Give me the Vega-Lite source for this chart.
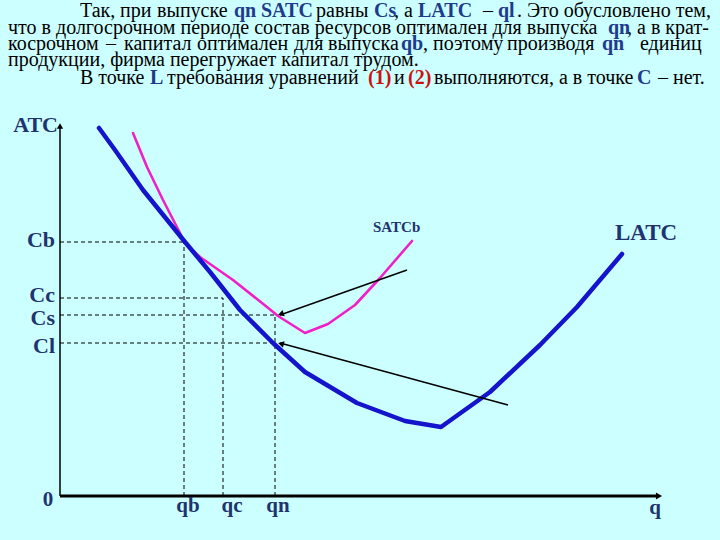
{
  "$schema": "https://vega.github.io/schema/vega-lite/v6.json",
  "width": 720,
  "height": 540,
  "autosize": {"type": "fit", "contains": "padding"},
  "padding": 0,
  "background": "#ccffff",
  "config": {"view": {"stroke": null}},
  "datasets": {
    "curves": [
      {"s": "LATC", "o": 1, "x": 39, "y": 368},
      {"s": "LATC", "o": 2, "x": 55, "y": 346},
      {"s": "LATC", "o": 3, "x": 83, "y": 306},
      {"s": "LATC", "o": 4, "x": 125, "y": 254},
      {"s": "LATC", "o": 5, "x": 150, "y": 224},
      {"s": "LATC", "o": 6, "x": 180, "y": 186},
      {"s": "LATC", "o": 7, "x": 213, "y": 153},
      {"s": "LATC", "o": 8, "x": 245, "y": 124},
      {"s": "LATC", "o": 9, "x": 297, "y": 93},
      {"s": "LATC", "o": 10, "x": 345, "y": 75},
      {"s": "LATC", "o": 11, "x": 381, "y": 69},
      {"s": "LATC", "o": 12, "x": 430, "y": 104},
      {"s": "LATC", "o": 13, "x": 480, "y": 151},
      {"s": "LATC", "o": 14, "x": 517, "y": 189},
      {"s": "LATC", "o": 15, "x": 562, "y": 242},
      {"s": "SATC", "o": 1, "x": 73, "y": 363},
      {"s": "SATC", "o": 2, "x": 80, "y": 346},
      {"s": "SATC", "o": 3, "x": 87, "y": 329},
      {"s": "SATC", "o": 4, "x": 103, "y": 296},
      {"s": "SATC", "o": 5, "x": 120, "y": 263},
      {"s": "SATC", "o": 6, "x": 124, "y": 254},
      {"s": "SATC", "o": 7, "x": 140, "y": 239},
      {"s": "SATC", "o": 8, "x": 173, "y": 216},
      {"s": "SATC", "o": 9, "x": 207, "y": 189},
      {"s": "SATC", "o": 10, "x": 218, "y": 180},
      {"s": "SATC", "o": 11, "x": 245, "y": 163},
      {"s": "SATC", "o": 12, "x": 268, "y": 172},
      {"s": "SATC", "o": 13, "x": 295, "y": 191},
      {"s": "SATC", "o": 14, "x": 320, "y": 218},
      {"s": "SATC", "o": 15, "x": 352, "y": 255}
    ],
    "dashes": [
      {"x": 0, "y": 254, "x2": 124, "y2": 254},
      {"x": 124, "y": 0, "x2": 124, "y2": 254},
      {"x": 0, "y": 198, "x2": 163, "y2": 198},
      {"x": 163, "y": 0, "x2": 163, "y2": 198},
      {"x": 0, "y": 181, "x2": 215, "y2": 181},
      {"x": 0, "y": 153, "x2": 215, "y2": 153},
      {"x": 215, "y": 0, "x2": 215, "y2": 181}
    ],
    "arrows": [
      {"a": "up", "x": 347, "y": 226, "x2": 220, "y2": 181},
      {"a": "lo", "x": 448, "y": 91, "x2": 220, "y2": 153}
    ],
    "heads": [
      {"a": "up", "x": 221.8, "y": 182.3},
      {"a": "lo", "x": 221.9, "y": 152},
      {"a": "ya", "x": 0, "y": 370},
      {"a": "xa", "x": 599, "y": 0}
    ],
    "ylabels": [
      {"t": "ATC", "x": -2, "y": 371},
      {"t": "Cb", "x": -5, "y": 256},
      {"t": "Cc", "x": -5, "y": 201},
      {"t": "Cs", "x": -5, "y": 178},
      {"t": "Cl", "x": -5, "y": 150}
    ],
    "xlabels": [
      {"t": "0", "x": -12, "y": -4},
      {"t": "qb", "x": 128, "y": -10},
      {"t": "qc", "x": 172, "y": -10},
      {"t": "qn", "x": 218, "y": -10},
      {"t": "q", "x": 595, "y": -12}
    ],
    "para": [
      {"k": "body", "t": "Так,", "x": 20, "y": 479},
      {"k": "body", "t": "при", "x": 60, "y": 479},
      {"k": "body", "t": "выпуске", "x": 97, "y": 479},
      {"k": "blue", "t": "qn", "x": 174, "y": 479},
      {"k": "blue", "t": "SATC", "x": 201, "y": 479},
      {"k": "body", "t": "равны", "x": 256, "y": 479},
      {"k": "blue", "t": "Cs", "x": 314, "y": 479},
      {"k": "body", "t": ", а", "x": 334, "y": 479},
      {"k": "blue", "t": "LATC", "x": 358, "y": 479},
      {"k": "body", "t": "–", "x": 423, "y": 479},
      {"k": "blue", "t": "ql", "x": 438, "y": 479},
      {"k": "body", "t": ". Это обусловлено тем,", "x": 457, "y": 479},
      {"k": "body", "t": "что в долгосрочном периоде состав ресурсов оптимален для выпуска", "x": -52, "y": 462},
      {"k": "blue", "t": "qn", "x": 548, "y": 462},
      {"k": "body", "t": ", а в крат-", "x": 567, "y": 462},
      {"k": "body", "t": "косрочном", "x": -52, "y": 446},
      {"k": "body", "t": "–", "x": 46, "y": 446},
      {"k": "body", "t": "капитал", "x": 64, "y": 446},
      {"k": "body", "t": "оптимален", "x": 137, "y": 446},
      {"k": "body", "t": "для", "x": 234, "y": 446},
      {"k": "body", "t": "выпуска", "x": 268, "y": 446},
      {"k": "blue", "t": "qb", "x": 341, "y": 446},
      {"k": "body", "t": ", поэтому", "x": 363, "y": 446},
      {"k": "body", "t": "производя", "x": 447, "y": 446},
      {"k": "blue", "t": "qn", "x": 542, "y": 446},
      {"k": "body", "t": "единиц", "x": 580, "y": 446},
      {"k": "body", "t": "продукции, фирма перегружает капитал трудом.", "x": -52, "y": 430},
      {"k": "body", "t": "В точке", "x": 20, "y": 412},
      {"k": "blue", "t": "L", "x": 90, "y": 412},
      {"k": "body", "t": "требования уравнений", "x": 107, "y": 412},
      {"k": "red", "t": "(1)", "x": 308, "y": 412},
      {"k": "body", "t": "и", "x": 334, "y": 412},
      {"k": "red", "t": "(2)", "x": 348, "y": 412},
      {"k": "body", "t": "выполняются, а в точке", "x": 374, "y": 412},
      {"k": "blue", "t": "C", "x": 577, "y": 412},
      {"k": "body", "t": "– нет.", "x": 598, "y": 412}
    ]
  },
  "encoding": {
    "x": {"field": "x", "type": "quantitative", "axis": null, "scale": {"domain": [-60, 660], "nice": false, "zero": false}},
    "y": {"field": "y", "type": "quantitative", "axis": null, "scale": {"domain": [-44, 496], "nice": false, "zero": false}}
  },
  "layer": [
    {
      "data": {"name": "dashes"},
      "mark": {"type": "rule", "color": "#000000", "strokeWidth": 1, "strokeDash": [4, 3]},
      "encoding": {"x2": {"field": "x2"}, "y2": {"field": "y2"}}
    },
    {
      "data": {"values": [{"x": 0, "y": 0, "x2": 0, "y2": 370}]},
      "mark": {"type": "rule", "color": "#000000", "strokeWidth": 1.5},
      "encoding": {"x2": {"field": "x2"}, "y2": {"field": "y2"}}
    },
    {
      "data": {"values": [{"x": 0, "y": 0, "x2": 598, "y2": 0}]},
      "mark": {"type": "rule", "color": "#000000", "strokeWidth": 3},
      "encoding": {"x2": {"field": "x2"}, "y2": {"field": "y2"}}
    },
    {
      "data": {"name": "heads"},
      "transform": [{"filter": "datum.a === 'ya'"}],
      "mark": {"type": "point", "shape": "triangle-up", "filled": true, "color": "#000000", "size": 40, "opacity": 1},
      "encoding": {}
    },
    {
      "data": {"name": "heads"},
      "transform": [{"filter": "datum.a === 'xa'"}],
      "mark": {"type": "point", "shape": "triangle-right", "filled": true, "color": "#000000", "size": 50, "opacity": 1},
      "encoding": {}
    },
    {
      "data": {"name": "curves"},
      "transform": [{"filter": "datum.s === 'SATC'"}],
      "mark": {"type": "line", "color": "#f020c8", "strokeWidth": 2.6, "strokeCap": "round", "strokeJoin": "round"},
      "encoding": {"order": {"field": "o"}}
    },
    {
      "data": {"name": "curves"},
      "transform": [{"filter": "datum.s === 'LATC'"}],
      "mark": {"type": "line", "color": "#1414cc", "strokeWidth": 4.5, "strokeCap": "round", "strokeJoin": "round"},
      "encoding": {"order": {"field": "o"}}
    },
    {
      "data": {"name": "arrows"},
      "mark": {"type": "rule", "color": "#000000", "strokeWidth": 1.5},
      "encoding": {"x2": {"field": "x2"}, "y2": {"field": "y2"}}
    },
    {
      "data": {"name": "heads"},
      "transform": [{"filter": "datum.a === 'up'"}],
      "mark": {"type": "point", "shape": "triangle", "angle": 250.8, "filled": true, "color": "#000000", "size": 45, "opacity": 1},
      "encoding": {}
    },
    {
      "data": {"name": "heads"},
      "transform": [{"filter": "datum.a === 'lo'"}],
      "mark": {"type": "point", "shape": "triangle", "angle": 285.1, "filled": true, "color": "#000000", "size": 45, "opacity": 1},
      "encoding": {}
    },
    {
      "data": {"name": "ylabels"},
      "mark": {"type": "text", "align": "right", "baseline": "middle", "font": "Liberation Serif", "fontSize": 22, "fontWeight": "bold", "color": "#1f336e"},
      "encoding": {"text": {"field": "t"}}
    },
    {
      "data": {"name": "xlabels"},
      "mark": {"type": "text", "align": "center", "baseline": "middle", "font": "Liberation Serif", "fontSize": 21, "fontWeight": "bold", "color": "#1f336e"},
      "encoding": {"text": {"field": "t"}}
    },
    {
      "data": {"values": [{"t": "SATCb", "x": 313, "y": 269}]},
      "mark": {"type": "text", "align": "left", "baseline": "middle", "font": "Liberation Serif", "fontSize": 15, "fontWeight": "bold", "color": "#1f336e"},
      "encoding": {"text": {"field": "t"}}
    },
    {
      "data": {"values": [{"t": "LATC", "x": 555, "y": 263}]},
      "mark": {"type": "text", "align": "left", "baseline": "middle", "font": "Liberation Serif", "fontSize": 23, "fontWeight": "bold", "color": "#1f336e"},
      "encoding": {"text": {"field": "t"}}
    },
    {
      "data": {"name": "para"},
      "transform": [{"filter": "datum.k === 'body'"}],
      "mark": {"type": "text", "align": "left", "baseline": "alphabetic", "font": "Liberation Serif", "fontSize": 20, "color": "#000000"},
      "encoding": {"text": {"field": "t"}}
    },
    {
      "data": {"name": "para"},
      "transform": [{"filter": "datum.k !== 'body'"}],
      "mark": {"type": "text", "align": "left", "baseline": "alphabetic", "font": "Liberation Serif", "fontSize": 20, "fontWeight": "bold"},
      "encoding": {
        "text": {"field": "t"},
        "color": {"field": "k", "type": "nominal", "legend": null, "scale": {"domain": ["blue", "red"], "range": ["#203a8c", "#cc1111"]}}
      }
    }
  ]
}
